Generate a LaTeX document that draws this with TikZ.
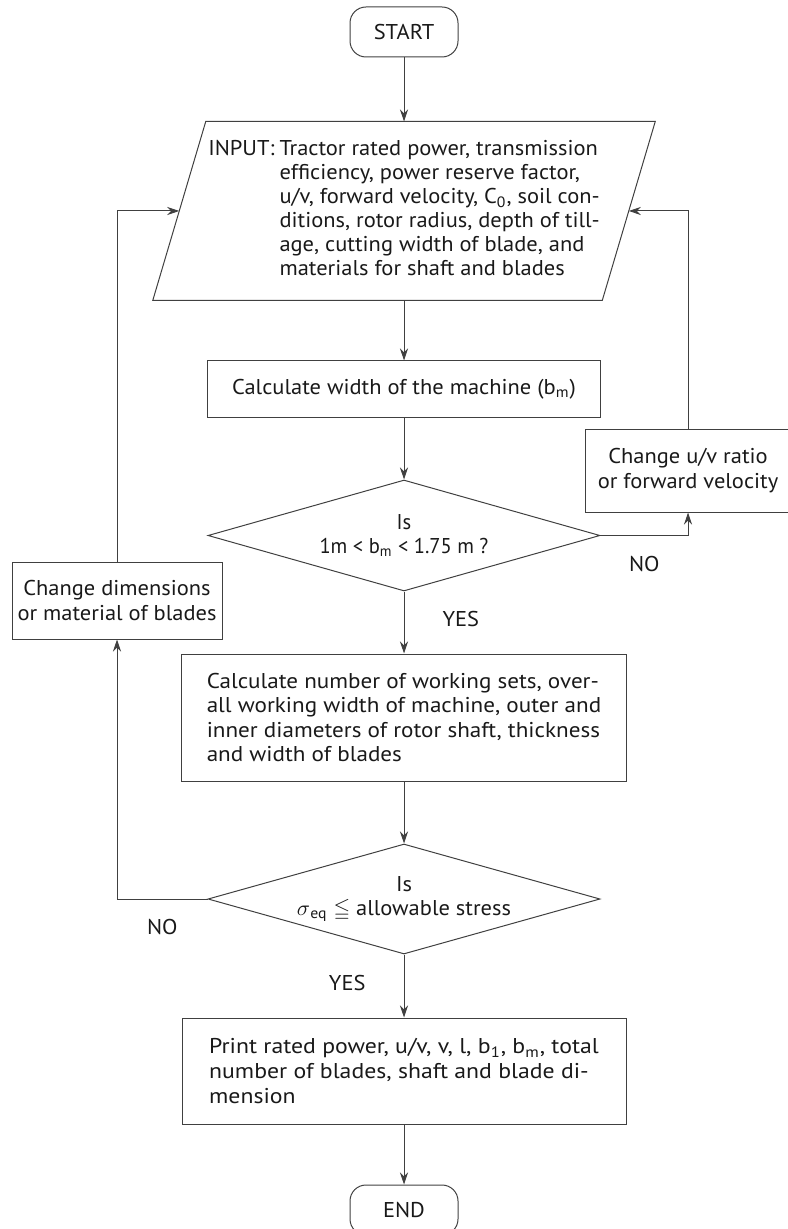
\documentclass[tikz,border=0pt]{standalone}
\usepackage{amssymb}
\usepackage{fontspec}
\setmainfont[FakeStretch=1.05]{PT Sans}
\newfontfamily\calcfont[FakeStretch=1.08]{PT Sans}
\newfontfamily\printfont[FakeStretch=1.11]{PT Sans}
\newfontfamily\testfont[FakeStretch=0.96]{PT Sans}
\usetikzlibrary{arrows.meta,positioning,shapes.geometric}

\tikzset{
  box/.style={draw=black!75, line width=0.5pt, text=black!90, inner sep=0pt,
    font=\fontsize{10.7}{12.3}\selectfont},
  term/.style={box, rounded corners=8pt, minimum width=54pt, minimum height=25pt},
  inout/.style={box, draw=none, minimum width=224.25pt, minimum height=89pt, align=left,
    font=\fontsize{10.7}{12}\selectfont},
  slant/.style={draw=black!75, line width=0.5pt},
  proc/.style={box, align=left},
  test/.style={box, diamond, aspect=3.5, minimum width=196pt, minimum height=55.5pt, align=center},
  lbl/.style={inner sep=0pt, text=black!90, font=\fontsize{10.7}{12}\selectfont},
  flow/.style={draw=black!75, line width=0.5pt, ->},
}

\begin{document}
\begin{tikzpicture}[>={Stealth[length=6pt,width=4pt]}]
\useasboundingbox (0,0) rectangle (393.5pt,-614.5pt);

\node[term] (start) at (202pt,-16pt) {START};
\node[inout] (input) [below=32pt of start] {\begin{tabular}{@{}l@{\hspace{2.5pt}}l@{}}
INPUT: & Tractor rated power, transmission\\
 & efficiency, power reserve factor,\\
 & u/v, forward velocity, C\textsubscript{0}, soil con-\\
 & ditions, rotor radius, depth of till-\\
 & age, cutting width of blade, and\\
 & materials for shaft and blades
\end{tabular}};
\draw[slant] ([xshift=13.25pt]input.north west) -- ([xshift=13.25pt]input.north east)
  -- ([xshift=-13.25pt]input.south east) -- ([xshift=-13.25pt]input.south west) -- cycle;
\node[proc, minimum width=196.5pt, minimum height=28pt] (calcw) [below=30pt of input]
  {Calculate width of the machine (b\textsubscript{m})};
\node[test] (chk1) [below=31pt of calcw] {\testfont Is\\\testfont 1m < b\textsubscript{m} < 1.75 m ?};
\node[proc, minimum width=222.5pt, minimum height=63.5pt] (calcs) [below=31pt of chk1]
  {\calcfont Calculate number of working sets, over-\\
   \calcfont all working width of machine, outer and\\
   \calcfont inner diameters of rotor shaft, thickness\\
   \calcfont and width of blades};
\node[test, minimum height=55pt] (chk2) [below=31pt of calcs]
  {Is\\$\sigma$\textsubscript{eq} $\leqq$ allowable stress};
\node[proc, minimum width=222pt, minimum height=53pt] (print) [below=31.5pt of chk2]
  {\printfont Print rated power, u/v, v, l, b\textsubscript{1}, b\textsubscript{m}, total\\
   \printfont number of blades, shaft and blade di-\\
   \printfont mension};
\node[term] (finish) [below=30pt of print] {END};

% side boxes
\node[proc, align=center, minimum width=103pt, minimum height=41.5pt] (ratio) at (344pt,-235.25pt)
  {Change u/v ratio\\or forward velocity};
\node[proc, align=center, minimum width=105pt, minimum height=38.5pt] (blades) at (58.5pt,-300.25pt)
  {Change dimensions\\or material of blades};

% connectors
\draw[flow] (start) -- (input);
\draw[flow] (input) -- (calcw);
\draw[flow] (calcw) -- (chk1);
\draw[flow] (chk1) -- node[lbl, right=19pt, pos=.45] {YES} (calcs);
\draw[flow] (chk1.east) -| node[lbl, below=10pt, pos=.25] {NO} (ratio.south);
\draw[flow] (ratio.north) |- (input.east);
\draw[flow] (calcs) -- (chk2);
\draw[flow] (chk2.west) -| node[lbl, below=10pt, pos=.25] {NO} (blades.south);
\draw[flow] (blades.north) |- (input.west);
\draw[flow] (chk2) -- node[lbl, left=19pt, pos=.45] {YES} (print);
\draw[flow] (print) -- (finish);
\end{tikzpicture}
\end{document}
